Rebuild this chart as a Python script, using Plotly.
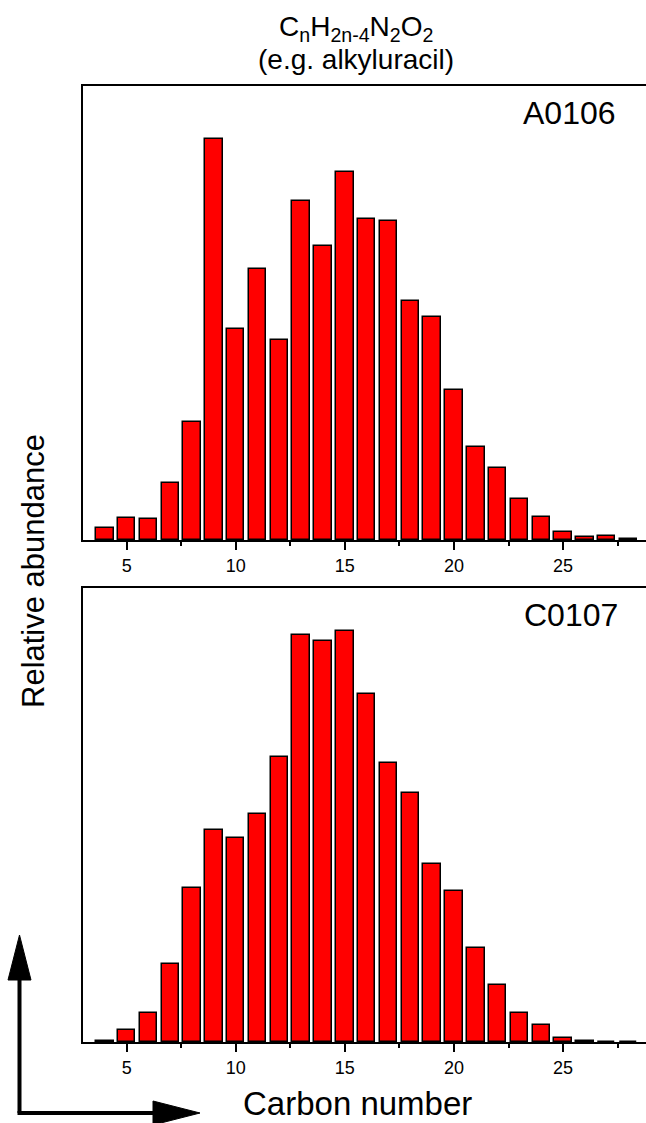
import plotly.graph_objects as go

# ---- data ----
carbon_number = list(range(4, 29))
a0106 = [3.1, 5.4, 5.2, 14.2, 29.3, 100, 52.7, 67.6, 49.8, 84.5, 73.4, 91.8, 80.1,
         79.6, 59.7, 55.5, 37.4, 23.3, 18.0, 10.3, 5.8, 2.0, 0.7, 0.9, 0.3]
c0107 = [0.3, 3.0, 7.1, 18.9, 37.5, 51.6, 49.7, 55.5, 69.2, 99.0, 97.4, 100, 84.6,
         67.9, 60.6, 43.3, 36.7, 22.9, 13.8, 7.1, 4.1, 1.0, 0.3, 0.0, 0.0]
sample_names = ["A0106", "C0107"]
tick_values = [5, 10, 15, 20, 25]
tick_labels = ["5", "10", "15", "20", "25"]

W, H = 646, 1123
FONT = "Liberation Sans, Arial, sans-serif"

def px(x):
    return x / W

def py(y):
    return 1 - y / H

fig = go.Figure()

for i, vals in enumerate([a0106, c0107]):
    fig.add_trace(go.Bar(
        x=carbon_number, y=vals, width=0.8,
        marker=dict(color="#FF0000", line=dict(color="black", width=1.5)),
        xaxis="x" if i == 0 else "x2", yaxis="y" if i == 0 else "y2",
        showlegend=False,
    ))

xcommon = dict(
    range=[3, 28.8], showgrid=False, zeroline=False,
    showline=True, linecolor="black", linewidth=2, mirror=True,
    ticks="outside", ticklen=8, tickwidth=2, tickcolor="black",
    tickvals=tick_values, ticktext=tick_labels,
    tickfont=dict(family=FONT, size=18, color="black"),
    minor=dict(ticks="outside", tick0=2.5, dtick=5, ticklen=4, tickwidth=2, tickcolor="black"),
    fixedrange=True,
)
ycommon = dict(showgrid=False, zeroline=False, showline=True, linecolor="black",
               linewidth=2, showticklabels=False, ticks="", fixedrange=True)

fig.update_layout(
    width=W, height=H, margin=dict(l=0, r=0, t=0, b=0),
    paper_bgcolor="white", plot_bgcolor="white", bargap=0,
    xaxis=dict(domain=[px(83), 1], anchor="y", **xcommon),
    yaxis=dict(domain=[py(540), py(86)], range=[0, 113.2], anchor="x", **ycommon),
    xaxis2=dict(domain=[px(83), 1], anchor="y2", **xcommon),
    yaxis2=dict(domain=[py(1042), py(588)], range=[0, 110.4], anchor="x2", **ycommon),
)

ann = []
ann.append(dict(text="C<sub>n</sub>H<sub>2n-4</sub>N<sub>2</sub>O<sub>2</sub>",
                x=px(356), y=py(28), xref="paper", yref="paper", showarrow=False,
                xanchor="center", yanchor="middle",
                font=dict(family=FONT, size=28, color="black")))
ann.append(dict(text="(e.g. alkyluracil)",
                x=px(356), y=py(60), xref="paper", yref="paper", showarrow=False,
                xanchor="center", yanchor="middle",
                font=dict(family=FONT, size=28, color="black")))
ann.append(dict(text=sample_names[0], x=px(618), y=py(113), xref="paper", yref="paper",
                xanchor="right", yanchor="middle", showarrow=False,
                font=dict(family=FONT, size=32, color="black")))
ann.append(dict(text=sample_names[1], x=px(620), y=py(615), xref="paper", yref="paper",
                xanchor="right", yanchor="middle", showarrow=False,
                font=dict(family=FONT, size=32, color="black")))
ann.append(dict(text="Relative abundance", x=px(33), y=py(571), xref="paper", yref="paper",
                textangle=-90, showarrow=False, xanchor="center", yanchor="middle",
                font=dict(family=FONT, size=31, color="black")))
ann.append(dict(text="Carbon number", x=px(357), y=py(1103), xref="paper", yref="paper",
                showarrow=False, xanchor="center", yanchor="middle", borderpad=0,
                font=dict(family=FONT, size=33, color="black")))
fig.update_layout(annotations=ann)

# decorative axis arrows
shapes = [
    dict(type="line", xref="paper", yref="paper", x0=px(19.5), y0=py(1113), x1=px(19.5), y1=py(975),
         line=dict(color="black", width=4)),
    dict(type="line", xref="paper", yref="paper", x0=px(17.5), y0=py(1113), x1=px(158), y1=py(1113),
         line=dict(color="black", width=4)),
    dict(type="path", xref="paper", yref="paper",
         path=f"M {px(19.5)} {py(935)} L {px(8)} {py(980)} L {px(31)} {py(980)} Z",
         fillcolor="black", line=dict(color="black", width=1)),
    dict(type="path", xref="paper", yref="paper",
         path=f"M {px(200)} {py(1113)} L {px(153)} {py(1101)} L {px(153)} {py(1125)} Z",
         fillcolor="black", line=dict(color="black", width=1)),
]
fig.update_layout(shapes=shapes)

fig.write_html("out.html", config={"displayModeBar": False},
               post_script="document.body.style.margin='0';document.body.style.overflow='hidden';")
